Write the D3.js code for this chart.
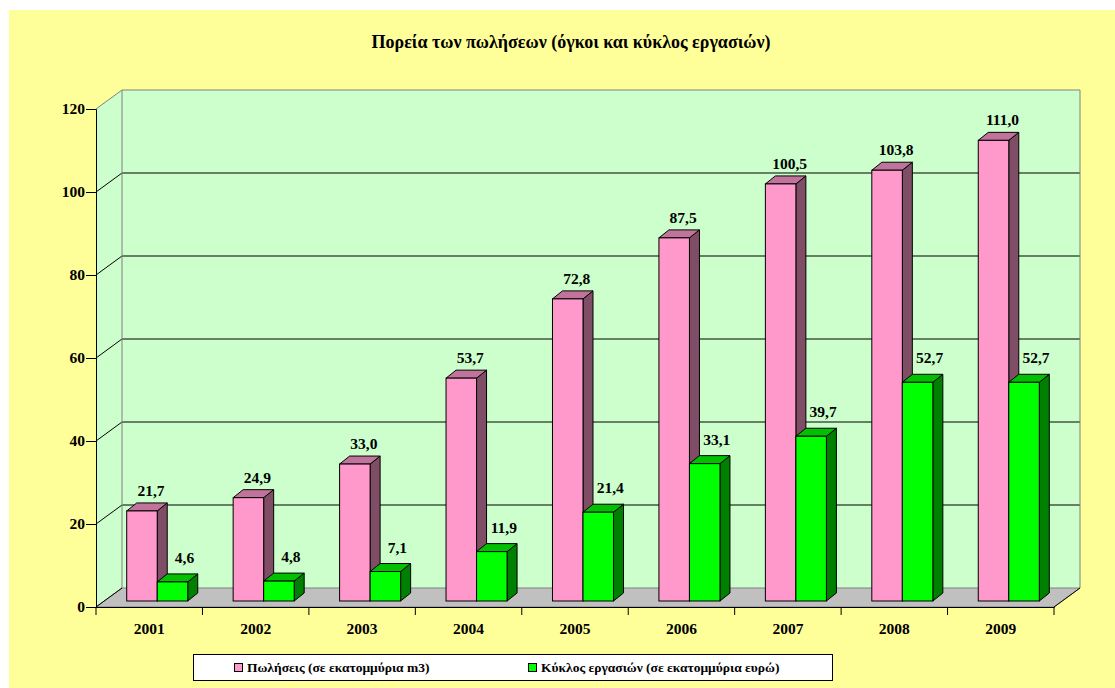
<!DOCTYPE html>
<html>
<head>
<meta charset="utf-8">
<script src="https://cdn.jsdelivr.net/npm/d3@7"></script>
<style>
  body { margin: 0; background: #fff; }
</style>
</head>
<body>
<div id="chart"></div>
<script>
// data
var years = ['2001', '2002', '2003', '2004', '2005', '2006', '2007', '2008', '2009'];
var sales = [21.7, 24.9, 33.0, 53.7, 72.8, 87.5, 100.5, 103.8, 111.0];
var turnover = [4.6, 4.8, 7.1, 11.9, 21.4, 33.1, 39.7, 52.7, 52.7];
var yTicks = [0, 20, 40, 60, 80, 100, 120];
var seriesNames = ['Πωλήσεις (σε εκατομμύρια m3)', 'Κύκλος εργασιών (σε εκατομμύρια ευρώ)'];
var title = 'Πορεία των πωλήσεων (όγκοι και κύκλος εργασιών)';

var svgWidth = 1115, svgHeight = 688;
var FONT = "'Liberation Serif', 'Times New Roman', serif";
var wallDepth = {dx: 26, dy: -19};   // back wall offset from front plane
var barPlane = {dx: 8, dy: -6};      // where bar fronts sit
var barDepth = {dx: 10, dy: -8};

var colors = {
  sales: {front: '#ff99cc', top: '#c0739b', side: '#804d66'},
  turnover: {front: '#00ff00', top: '#00c000', side: '#008000'}
};

var fmt = d3.formatLocale({decimal: ',', thousands: '.', grouping: [3], currency: ['', '€']}).format('.1f');

var svg = d3.select('#chart').append('svg')
  .attr('width', svgWidth)
  .attr('height', svgHeight)
  .style('font-family', FONT);

// chart area background
svg.append('rect')
  .attr('x', 9).attr('y', 10)
  .attr('width', svgWidth - 9).attr('height', svgHeight - 10)
  .attr('fill', '#ffff99');

var x = d3.scaleBand().domain(years).range([96, 1054]);
var inner = d3.scaleBand().domain(['sales', 'turnover'])
  .range([0, x.bandwidth()]).paddingOuter(0.744);
var y = d3.scaleLinear().domain([0, 120]).range([607, 109]);

var x0 = x.range()[0], x1 = x.range()[1];
var yTop = y(120), yBot = y(0);
var wd = wallDepth;

function pts(a) { return a.map(function(p) { return p.join(','); }).join(' '); }

function styleText(sel, size) {
  sel.style('font-family', FONT)
    .style('font-weight', 'bold')
    .style('font-size', size + 'px')
    .attr('fill', '#000');
}

// walls
svg.append('polygon')
  .attr('points', pts([[x0, yBot], [x0, yTop], [x0 + wd.dx, yTop + wd.dy], [x0 + wd.dx, yBot + wd.dy]]))
  .attr('fill', '#ccffcc');
svg.append('rect')
  .attr('x', x0 + wd.dx).attr('y', yTop + wd.dy)
  .attr('width', x1 - x0).attr('height', yBot - yTop)
  .attr('fill', '#ccffcc');

// gridlines on back and side wall
yTicks.forEach(function(v) {
  if (v === 0) return;
  var c = v === 120 ? '#808080' : '#000';
  svg.append('line')
    .attr('x1', x0).attr('y1', y(v))
    .attr('x2', x0 + wd.dx).attr('y2', y(v) + wd.dy)
    .attr('stroke', c).attr('stroke-width', 1);
  svg.append('line')
    .attr('x1', x0 + wd.dx).attr('y1', y(v) + wd.dy)
    .attr('x2', x1 + wd.dx).attr('y2', y(v) + wd.dy)
    .attr('stroke', c).attr('stroke-width', 1);
});

// wall edges
svg.append('line')
  .attr('x1', x0 + wd.dx).attr('y1', yTop + wd.dy)
  .attr('x2', x0 + wd.dx).attr('y2', yBot + wd.dy)
  .attr('stroke', '#808080');
svg.append('line')
  .attr('x1', x1 + wd.dx).attr('y1', yTop + wd.dy)
  .attr('x2', x1 + wd.dx).attr('y2', yBot + wd.dy)
  .attr('stroke', '#808080');

// floor
svg.append('polygon')
  .attr('points', pts([[x0, yBot], [x1, yBot], [x1 + wd.dx, yBot + wd.dy], [x0 + wd.dx, yBot + wd.dy]]))
  .attr('fill', '#c0c0c0')
  .attr('stroke', '#808080');
svg.append('line')
  .attr('x1', x0).attr('y1', yBot).attr('x2', x0 + wd.dx).attr('y2', yBot + wd.dy)
  .attr('stroke', '#000');
svg.append('line')
  .attr('x1', x1).attr('y1', yBot).attr('x2', x1 + wd.dx).attr('y2', yBot + wd.dy)
  .attr('stroke', '#000');

// y axis
var yAxis = svg.append('g')
  .attr('transform', 'translate(' + x0 + ',0)')
  .call(d3.axisLeft(y).tickValues(yTicks).tickSize(10).tickPadding(1).tickFormat(d3.format('d')));
yAxis.attr('font-family', null);
yAxis.selectAll('text').call(styleText, 15.5);
yAxis.selectAll('line, path').attr('stroke', '#000');

// x axis
var xAxis = svg.append('g')
  .attr('transform', 'translate(0,' + yBot + ')')
  .call(d3.axisBottom(x).tickSize(0).tickPadding(16));
xAxis.attr('font-family', null);
xAxis.select('.domain').attr('stroke', '#000');
xAxis.selectAll('text').call(styleText, 15.5);
svg.selectAll('.xtick')
  .data(years.concat(['end']))
  .enter().append('line')
  .attr('class', 'xtick')
  .attr('x1', function(d) { return d === 'end' ? x1 : x(d); })
  .attr('x2', function(d) { return d === 'end' ? x1 : x(d); })
  .attr('y1', yBot).attr('y2', yBot + 8)
  .attr('stroke', '#000');

// bars
var yb = function(v) { return y(v) + barPlane.dy; };
var bars = [];
years.forEach(function(yr, i) {
  bars.push({year: yr, key: 'sales', value: sales[i]});
  bars.push({year: yr, key: 'turnover', value: turnover[i]});
});

var bw = inner.bandwidth();
var bd = barDepth;
var barG = svg.append('g').attr('class', 'bars');
bars.forEach(function(d) {
  var left = x(d.year) + inner(d.key) + barPlane.dx;
  var right = left + bw;
  var top = yb(d.value), bottom = yb(0);
  var c = colors[d.key];
  var g = barG.append('g');
  // side
  g.append('polygon')
    .attr('points', pts([[right, bottom], [right, top], [right + bd.dx, top + bd.dy], [right + bd.dx, bottom + bd.dy]]))
    .attr('fill', c.side).attr('stroke', '#000').attr('stroke-linejoin', 'round');
  // top
  g.append('polygon')
    .attr('points', pts([[left, top], [right, top], [right + bd.dx, top + bd.dy], [left + bd.dx, top + bd.dy]]))
    .attr('fill', c.top).attr('stroke', '#000').attr('stroke-linejoin', 'round');
  // front
  g.append('rect')
    .attr('x', left).attr('y', top)
    .attr('width', bw).attr('height', bottom - top)
    .attr('fill', c.front).attr('stroke', '#000');
});

// value labels
bars.forEach(function(d) {
  var left = x(d.year) + inner(d.key) + barPlane.dx;
  var off = d.key === 'sales' ? {dx: 9, dy: 7} : {dx: 12, dy: 11};
  svg.append('text')
    .attr('x', left + bw / 2 + off.dx)
    .attr('y', yb(d.value) + bd.dy - off.dy)
    .attr('text-anchor', 'middle')
    .call(styleText, 15.5)
    .text(fmt(d.value));
});

// title
svg.append('text')
  .attr('x', 571).attr('y', 48)
  .attr('text-anchor', 'middle')
  .call(styleText, 18)
  .text(title);

// legend
var legend = svg.append('g').attr('class', 'legend');
legend.append('rect')
  .attr('x', 193.5).attr('y', 654.5)
  .attr('width', 639).attr('height', 26)
  .attr('fill', '#fff').attr('stroke', '#000');
var legendX = [234, 528];
['sales', 'turnover'].forEach(function(k, i) {
  legend.append('rect')
    .attr('x', legendX[i] + 0.5).attr('y', 663.5)
    .attr('width', 8).attr('height', 8)
    .attr('fill', colors[k].front).attr('stroke', '#000');
  legend.append('text')
    .attr('x', legendX[i] + 13).attr('y', 672)
    .call(styleText, 13.5)
    .text(seriesNames[i]);
});
</script>
</body>
</html>
